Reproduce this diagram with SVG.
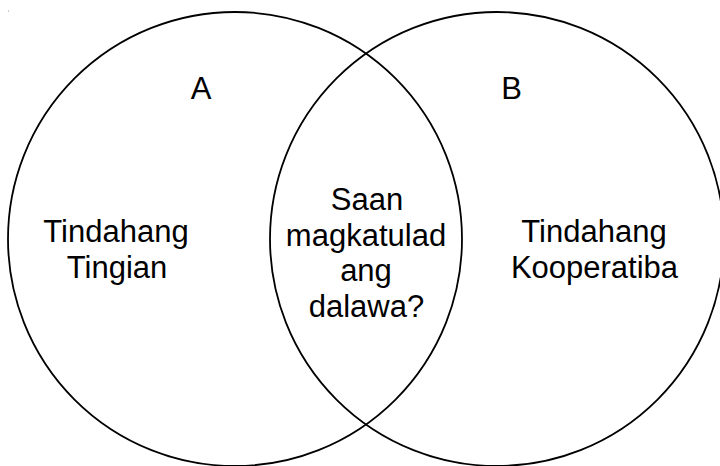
<svg xmlns="http://www.w3.org/2000/svg" width="720" height="466" viewBox="0 0 720 466">
<style>
.c{fill:none;stroke:#000;stroke-width:1.8}
text{font-family:"Liberation Sans",Arial,sans-serif;font-size:31px;fill:#000;text-anchor:middle}
</style>
<rect width="720" height="466" fill="#fff"/>
<rect x="8" y="10.5" width="1" height="1" fill="#999"/>
<g id="circleA">
<circle class="c" cx="235" cy="239" r="227"/>
<text x="201" y="98.5">A</text>
<text x="116" y="242">Tindahang</text>
<text x="117" y="278">Tingian</text>
</g>
<g id="circleB">
<circle class="c" cx="497" cy="239" r="227"/>
<text x="511.5" y="98.5">B</text>
<text x="594" y="242">Tindahang</text>
<text x="594.5" y="278">Kooperatiba</text>
</g>
<g id="overlap">
<text x="367" y="210">Saan</text>
<text x="366" y="245.5">magkatulad</text>
<text x="366" y="281">ang</text>
<text x="366.5" y="316.5">dalawa?</text>
</g>
<g id="connectors"/>
</svg>
